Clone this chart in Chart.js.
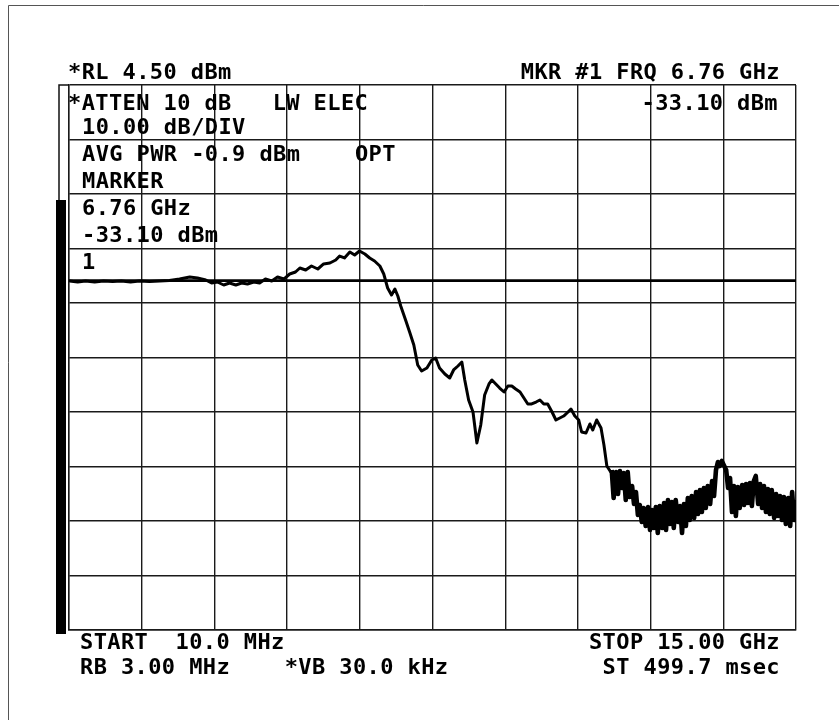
<!DOCTYPE html>
<html>
<head>
<meta charset="utf-8">
<script src="https://cdn.jsdelivr.net/npm/chart.js@4/dist/chart.umd.min.js"></script>
<style>
  html, body { margin: 0; padding: 0; background: #fff; }
  #chart { display: block; }
</style>
</head>
<body>
<canvas id="chart" width="839" height="721"></canvas>
<script>
// sweep: frequency (GHz) and level (dBm)
const freqGHz = [
    0.02, 0.19, 0.35, 0.54, 0.72, 0.91, 1.09, 1.28, 1.46, 1.67,
    1.88, 2.08, 2.29, 2.50, 2.66, 2.83, 2.95, 3.07, 3.20, 3.32,
    3.45, 3.57, 3.69, 3.82, 3.94, 4.06, 4.19, 4.31, 4.44, 4.56,
    4.68, 4.77, 4.89, 5.01, 5.14, 5.26, 5.39, 5.51, 5.59, 5.69,
    5.80, 5.90, 6.00, 6.11, 6.21, 6.31, 6.42, 6.50, 6.58, 6.66,
    6.73, 6.79, 6.85, 6.95, 7.04, 7.12, 7.20, 7.28, 7.39, 7.49,
    7.57, 7.65, 7.76, 7.86, 7.94, 8.03, 8.11, 8.17, 8.25, 8.34,
    8.42, 8.50, 8.58, 8.67, 8.73, 8.81, 8.89, 8.98, 9.06, 9.14,
    9.22, 9.31, 9.39, 9.47, 9.55, 9.64, 9.72, 9.80, 9.88, 9.97,
    10.05, 10.13, 10.21, 10.30, 10.36, 10.44, 10.52, 10.58, 10.67, 10.75,
    10.81, 10.89, 10.98, 11.04, 11.10, 11.18,
    11.20, 11.24, 11.29, 11.33, 11.37, 11.41, 11.45, 11.49, 11.53, 11.57,
    11.62, 11.66, 11.70, 11.74, 11.78, 11.82, 11.86, 11.90, 11.95, 11.99,
    12.03, 12.07, 12.11, 12.15, 12.19, 12.24, 12.28, 12.32, 12.36, 12.40,
    12.44, 12.48, 12.52, 12.57, 12.61, 12.65, 12.69, 12.73, 12.77, 12.81,
    12.85, 12.90, 12.94, 12.98, 13.02, 13.06, 13.10, 13.14, 13.18, 13.23,
    13.27, 13.31, 13.35, 13.39, 13.43, 13.47, 13.51, 13.56, 13.60, 13.64,
    13.68, 13.72, 13.76, 13.80, 13.84, 13.89, 13.93, 13.97, 14.01, 14.05,
    14.09, 14.13, 14.17, 14.22, 14.26, 14.30, 14.34, 14.38, 14.42, 14.46,
    14.50, 14.55, 14.59, 14.63, 14.67, 14.71, 14.75, 14.79, 14.84, 14.88,
    14.92, 14.96, 14.98,
];
const levelDbm = [
    -31.46, -31.65, -31.46, -31.65, -31.46, -31.56, -31.46, -31.65, -31.46, -31.56,
    -31.46, -31.37, -31.10, -30.73, -30.91, -31.28, -31.83, -31.65, -32.20, -31.83,
    -32.20, -31.83, -32.01, -31.65, -31.83, -31.10, -31.46, -30.73, -31.10, -30.18,
    -29.81, -29.08, -29.45, -28.71, -29.26, -28.34, -28.16, -27.61, -26.88, -27.24,
    -26.14, -26.69, -25.96, -26.51, -27.24, -27.79, -28.71, -30.18, -32.75, -34.03,
    -32.93, -34.22, -36.05, -38.62, -41.01, -43.21, -46.88, -47.98, -47.43, -45.96,
    -45.59, -47.43, -48.53, -49.26, -47.79, -47.06, -46.33, -49.63, -53.30, -55.50,
    -61.19, -57.89, -52.38, -50.36, -49.63, -50.36, -51.10, -51.83, -50.73, -50.73,
    -51.28, -51.83, -52.93, -54.03, -54.03, -53.67, -53.30, -54.03, -54.03, -55.50,
    -56.97, -56.60, -56.24, -55.50, -54.95, -56.24, -56.97, -59.17, -59.35, -57.70,
    -58.80, -56.97, -58.44, -61.56, -65.41, -66.51,
    -66.14, -71.28, -66.51, -70.55, -66.33, -69.45, -66.69, -71.65, -66.51, -71.10,
    -69.08, -72.38, -70.18, -74.40, -72.57, -75.69, -73.12, -76.42, -72.93, -77.16,
    -73.49, -76.79, -72.93, -77.70, -72.75, -76.79, -72.20, -77.16, -71.65, -76.05,
    -72.02, -76.79, -71.65, -75.69, -72.75, -77.70, -72.38, -76.42, -71.28, -75.32,
    -70.91, -74.95, -70.18, -74.22, -69.81, -73.85, -69.45, -73.12, -69.08, -72.38,
    -68.16, -70.91, -66.14, -64.68, -65.41, -64.49, -65.23, -66.14, -69.45, -67.61,
    -73.85, -69.08, -74.58, -69.26, -73.12, -68.90, -72.57, -68.71, -72.20, -68.53,
    -72.75, -68.16, -67.24, -72.38, -68.71, -73.12, -69.08, -73.85, -69.63, -74.22,
    -69.81, -74.95, -70.55, -74.58, -70.91, -75.32, -71.10, -76.05, -71.28, -76.42,
    -70.18, -75.32, -71.65,
];

// display line level (dBm)
const displayLineDbm = -31.4;
// noise floor starts here (GHz), trace gets drawn heavier past it
const noisyFromGHz = 11.19;

// screen graticule: 10 divisions each way
const xGridGHz = [0.01, 1.509, 3.008, 4.507, 6.006, 7.505, 9.004, 10.503, 12.002, 13.501, 15.0];
const yGridDbm = [4.5, -5.5, -15.5, -25.5, -35.5, -45.5, -55.5, -65.5, -75.5, -85.5, -95.5];

// annotation texts on the screen
const headerLeft = "*RL 4.50 dBm";
const headerRight = "MKR #1 FRQ 6.76 GHz";
const markerLevelRight = "-33.10 dBm";
const panelTop = "*ATTEN 10 dB   LW ELEC";
const panelLines = ["10.00 dB/DIV", "AVG PWR -0.9 dBm    OPT", "MARKER", "6.76 GHz", "-33.10 dBm", "1"];
const footerLeft = ["START  10.0 MHz", "RB 3.00 MHz    *VB 30.0 kHz"];
const footerRight = ["STOP 15.00 GHz", "ST 499.7 msec"];

const screenText = {
    id: "screenText",
    afterDraw(chart) {
        const { ctx, chartArea: a } = chart;
        ctx.save();

        // page frame (top and left)
        ctx.strokeStyle = "#555";
        ctx.lineWidth = 1;
        ctx.beginPath();
        ctx.moveTo(8.5, 720);
        ctx.lineTo(8.5, 5.5);
        ctx.lineTo(839, 5.5);
        ctx.stroke();

        // left edge: thin box line then heavy bar
        ctx.strokeStyle = "#111";
        ctx.lineWidth = 1.5;
        ctx.beginPath();
        ctx.moveTo(a.left, a.top);
        ctx.lineTo(a.left - 10, a.top);
        ctx.lineTo(a.left - 10, 200);
        ctx.stroke();
        ctx.fillStyle = "#000";
        ctx.fillRect(a.left - 13, 200, 10, a.bottom - 200 + 4);

        ctx.font = "bold 22px 'DejaVu Sans Mono'";
        ctx.letterSpacing = "0.4px";
        ctx.fillStyle = "#000";
        ctx.textBaseline = "alphabetic";

        ctx.textAlign = "left";
        ctx.fillText(headerLeft, a.left - 1, a.top - 6);
        ctx.fillText(panelTop, a.left - 1, a.top + 25);
        panelLines.forEach((t, i) => {
            ctx.fillText(t, a.left + 13, a.top + 49 + i * 27);
        });
        footerLeft.forEach((t, i) => {
            ctx.fillText(t, a.left + 11, a.bottom + 19 + i * 25);
        });

        ctx.textAlign = "right";
        ctx.fillText(headerRight, a.right - 16, a.top - 6);
        ctx.fillText(markerLevelRight, a.right - 18, a.top + 25);
        footerRight.forEach((t, i) => {
            ctx.fillText(t, a.right - 16, a.bottom + 19 + i * 25);
        });

        ctx.restore();
    },
};

const sweep = freqGHz.map((f, i) => ({ x: f, y: levelDbm[i] }));
const displayLine = [
    { x: xGridGHz[0], y: displayLineDbm },
    { x: xGridGHz[xGridGHz.length - 1], y: displayLineDbm },
];

const gridStyle = {
    color: "#1a1a1a",
    lineWidth: 1.4,
    drawTicks: false,
};

const ctx = document.getElementById("chart").getContext("2d");
const chart = new Chart(ctx, {
    type: "line",
    data: {
        datasets: [
            {
                label: "Display line",
                data: displayLine,
                borderColor: "#000",
                borderWidth: 2.6,
                pointRadius: 0,
            },
            {
                label: "Trace",
                data: sweep,
                borderColor: "#000",
                borderWidth: 3,
                pointRadius: 0,
                tension: 0,
                borderJoinStyle: "round",
                segment: {
                    borderWidth: (c) => (c.p0.parsed.x >= noisyFromGHz ? 4.6 : 3),
                },
            },
        ],
    },
    options: {
        responsive: false,
        animation: false,
        layout: {
            padding: { left: 69, top: 85, right: 43, bottom: 91 },
        },
        plugins: {
            legend: { display: false },
            tooltip: { enabled: false },
            title: { display: false },
        },
        scales: {
            x: {
                type: "linear",
                min: xGridGHz[0],
                max: xGridGHz[xGridGHz.length - 1],
                afterBuildTicks: (axis) => {
                    axis.ticks = xGridGHz.map((v) => ({ value: v }));
                },
                ticks: { display: false },
                grid: gridStyle,
                border: { display: true, color: "#1a1a1a", width: 1.4 },
            },
            y: {
                type: "linear",
                min: yGridDbm[yGridDbm.length - 1],
                max: yGridDbm[0],
                afterBuildTicks: (axis) => {
                    axis.ticks = yGridDbm.map((v) => ({ value: v }));
                },
                ticks: { display: false },
                grid: gridStyle,
                border: { display: true, color: "#1a1a1a", width: 1.4 },
            },
        },
    },
    plugins: [screenText],
});
</script>
</body>
</html>
